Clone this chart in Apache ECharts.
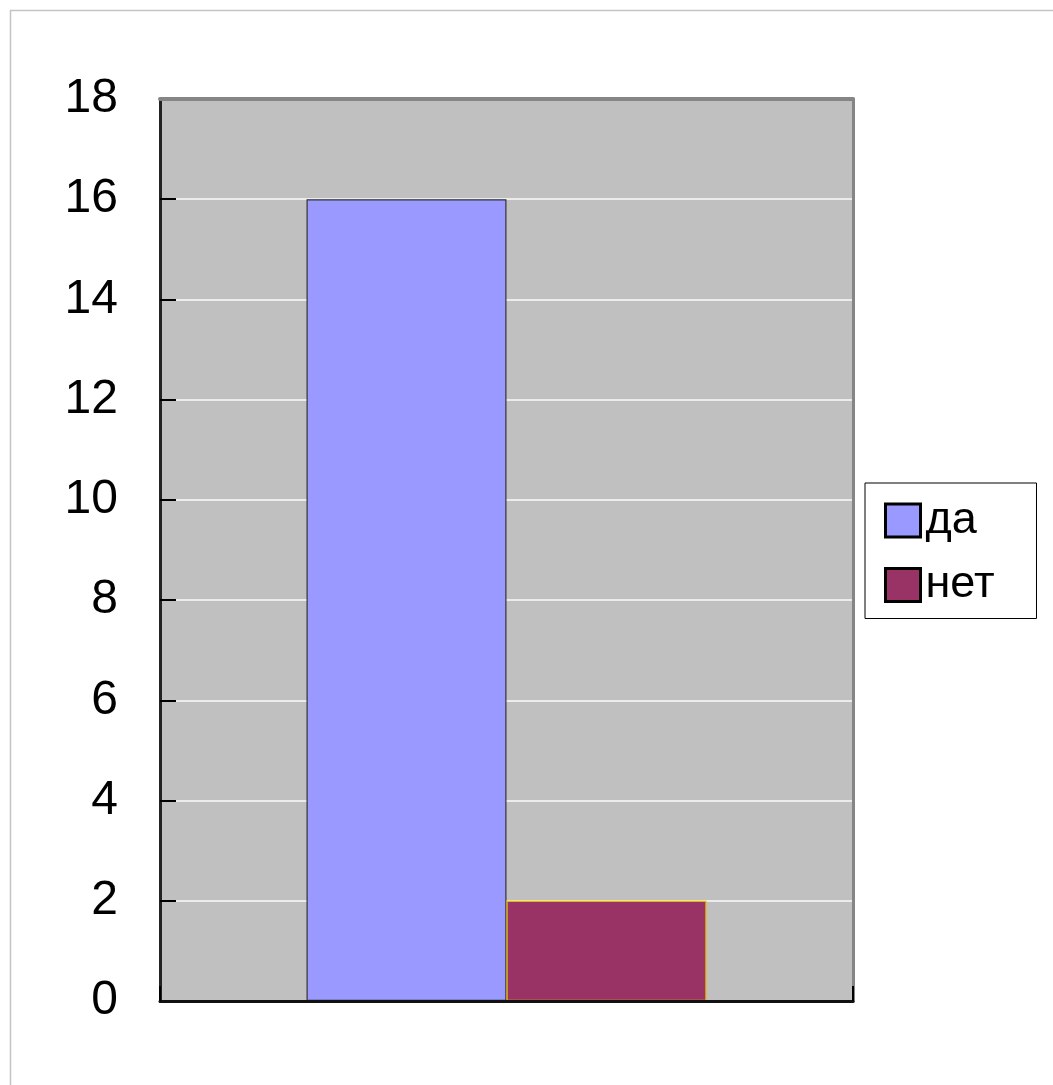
<!DOCTYPE html>
<html>
<head>
<meta charset="utf-8">
<script src="https://cdn.jsdelivr.net/npm/echarts@6/dist/echarts.min.js"></script>
<style>
html,body{margin:0;padding:0;background:#fff;}
#chart{width:1053px;height:1085px;}
</style>
</head>
<body>
<div id="chart"></div>
<script>
const categories = [''];
const seriesNames = ['да', 'нет'];
const seriesValues = [[16], [2]];
const yTicks = [0, 2, 4, 6, 8, 10, 12, 14, 16, 18];

const colors = ['#9999ff', '#993366'];
const borders = ['#333333', '#e8b800'];

const chart = echarts.init(document.getElementById('chart'), null, {renderer: 'canvas'});
const font = '"Liberation Sans", Arial, sans-serif';

chart.setOption({
  animation: false,
  backgroundColor: '#ffffff',
  graphic: [{
    type: 'rect',
    shape: {x: 10.5, y: 10.5, width: 2000, height: 2000},
    style: {fill: 'none', stroke: '#c4c4c4', lineWidth: 1.5},
    silent: true, z: 0
  }],
  grid: {
    left: 160, right: 200, top: 99, bottom: 84,
    show: true, backgroundColor: '#c0c0c0',
    borderColor: '#808080', borderWidth: 0
  },
  legend: {
    orient: 'vertical',
    left: 865, top: 483,
    padding: [15, 42, 11, 19],
    itemGap: 19.5,
    itemWidth: 35, itemHeight: 33,
    borderColor: '#000', borderWidth: 1,
    backgroundColor: '#fff',
    icon: 'rect',
    textStyle: {fontSize: 45, fontFamily: font, color: '#000'},
    data: seriesNames.map(n => ({name: n, itemStyle: {borderColor: '#000', borderWidth: 3}}))
  },
  xAxis: [{
    type: 'category',
    position: 'bottom',
    data: categories,
    z: 3,
    axisLine: {show: true, onZero: false, lineStyle: {color: '#111', width: 3}},
    axisTick: {show: true, inside: true, length: 15, lineStyle: {color: '#000', width: 2}},
    axisLabel: {show: false},
    splitLine: {show: false}
  }, {
    type: 'category',
    position: 'top',
    data: categories,
    z: 3,
    axisLine: {show: true, onZero: false, lineStyle: {color: '#858585', width: 4}},
    axisTick: {show: false},
    axisLabel: {show: false},
    splitLine: {show: false}
  }],
  yAxis: [{
    type: 'value',
    position: 'left',
    min: yTicks[0], max: yTicks[yTicks.length - 1], interval: 2,
    axisLine: {show: true, onZero: false, lineStyle: {color: '#222', width: 3}},
    axisTick: {show: true, inside: true, length: 16, lineStyle: {color: '#000', width: 2}},
    axisLabel: {fontSize: 48, fontFamily: font, color: '#000', margin: 42},
    splitLine: {show: true, lineStyle: {color: '#ececec', width: 2}}
  }, {
    type: 'value',
    position: 'right',
    min: yTicks[0], max: yTicks[yTicks.length - 1], interval: 2,
    z: 3,
    axisLine: {show: true, onZero: false, lineStyle: {color: '#858585', width: 3}},
    axisTick: {show: false},
    axisLabel: {show: false},
    splitLine: {show: false}
  }],
  series: seriesNames.map((name, i) => ({
    name: name,
    type: 'bar',
    data: seriesValues[i],
    barWidth: 200,
    barGap: '0%',
    itemStyle: {color: colors[i], borderColor: borders[i], borderWidth: 1.2}
  }))
});
</script>
</body>
</html>
